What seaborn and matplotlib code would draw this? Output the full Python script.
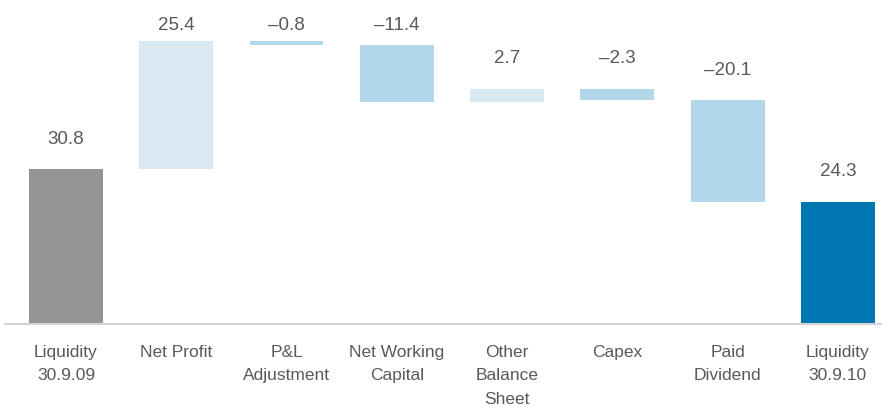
import matplotlib
matplotlib.use("Agg")
import matplotlib.pyplot as plt
import numpy as np
import pandas as pd
import seaborn as sns

# data
categories = ["Liquidity\n30.9.09", "Net Profit", "P&L\nAdjustment", "Net Working\nCapital",
              "Other\nBalance\nSheet", "Capex", "Paid\nDividend", "Liquidity\n30.9.10"]
start_value = 30.8
changes = [25.4, -0.8, -11.4, 2.7, -2.3, -20.1]
end_value = 24.3

# waterfall geometry from data
values = [start_value] + changes + [end_value]
bottoms, heights = [0.0], [start_value]
level = start_value
for c in changes:
    bottoms.append(min(level, level + c))
    heights.append(abs(c))
    level += c
bottoms.append(0.0)
heights.append(end_value)
tops = [b + h for b, h in zip(bottoms, heights)]

colors = ["#959595"] + ["#d9eaf4" if c > 0 else "#b3d7ea" for c in changes] + ["#0077b0"]

df = pd.DataFrame({"cat": categories, "height": heights})

sns.set_style("white")
plt.rcParams["font.family"] = ["Liberation Sans", "DejaVu Sans"]

fig = plt.figure(figsize=(8.82, 4.08), dpi=100)
ax = fig.add_axes([5 / 882, 84 / 408, 877 / 882, 324 / 408])

sns.barplot(data=df, x="cat", y="height", bottom=bottoms, width=0.67,
            color="#959595", ax=ax, zorder=2)
for p, col in zip(ax.patches, colors):
    p.set_facecolor(col)
    p.set_edgecolor("none")

ax.set_xlim(-0.553, 7.40)
ax.set_ylim(0, 64.3)

for i, (v, t) in enumerate(zip(values, tops)):
    txt = f"{abs(v):.1f}"
    if v < 0 and i not in (0, len(values) - 1):
        txt = "\u2013" + txt
    ax.text(i, min(t + 5.9, 59.3), txt, ha="center", va="center",
            fontsize=13.5, color="#595959")

sns.despine(ax=ax, left=True, top=True, right=True)
ax.spines["bottom"].set_color("#d4d4d4")
ax.spines["bottom"].set_linewidth(1.5)
ax.set_yticks([])
ax.set_xlabel("")
ax.set_ylabel("")
ax.tick_params(axis="x", length=0, pad=15, labelsize=12.5, labelcolor="#595959")
for lab in ax.get_xticklabels():
    lab.set_linespacing(1.7)
    lab.set_verticalalignment("top")

fig.savefig("out.png", dpi=100)
